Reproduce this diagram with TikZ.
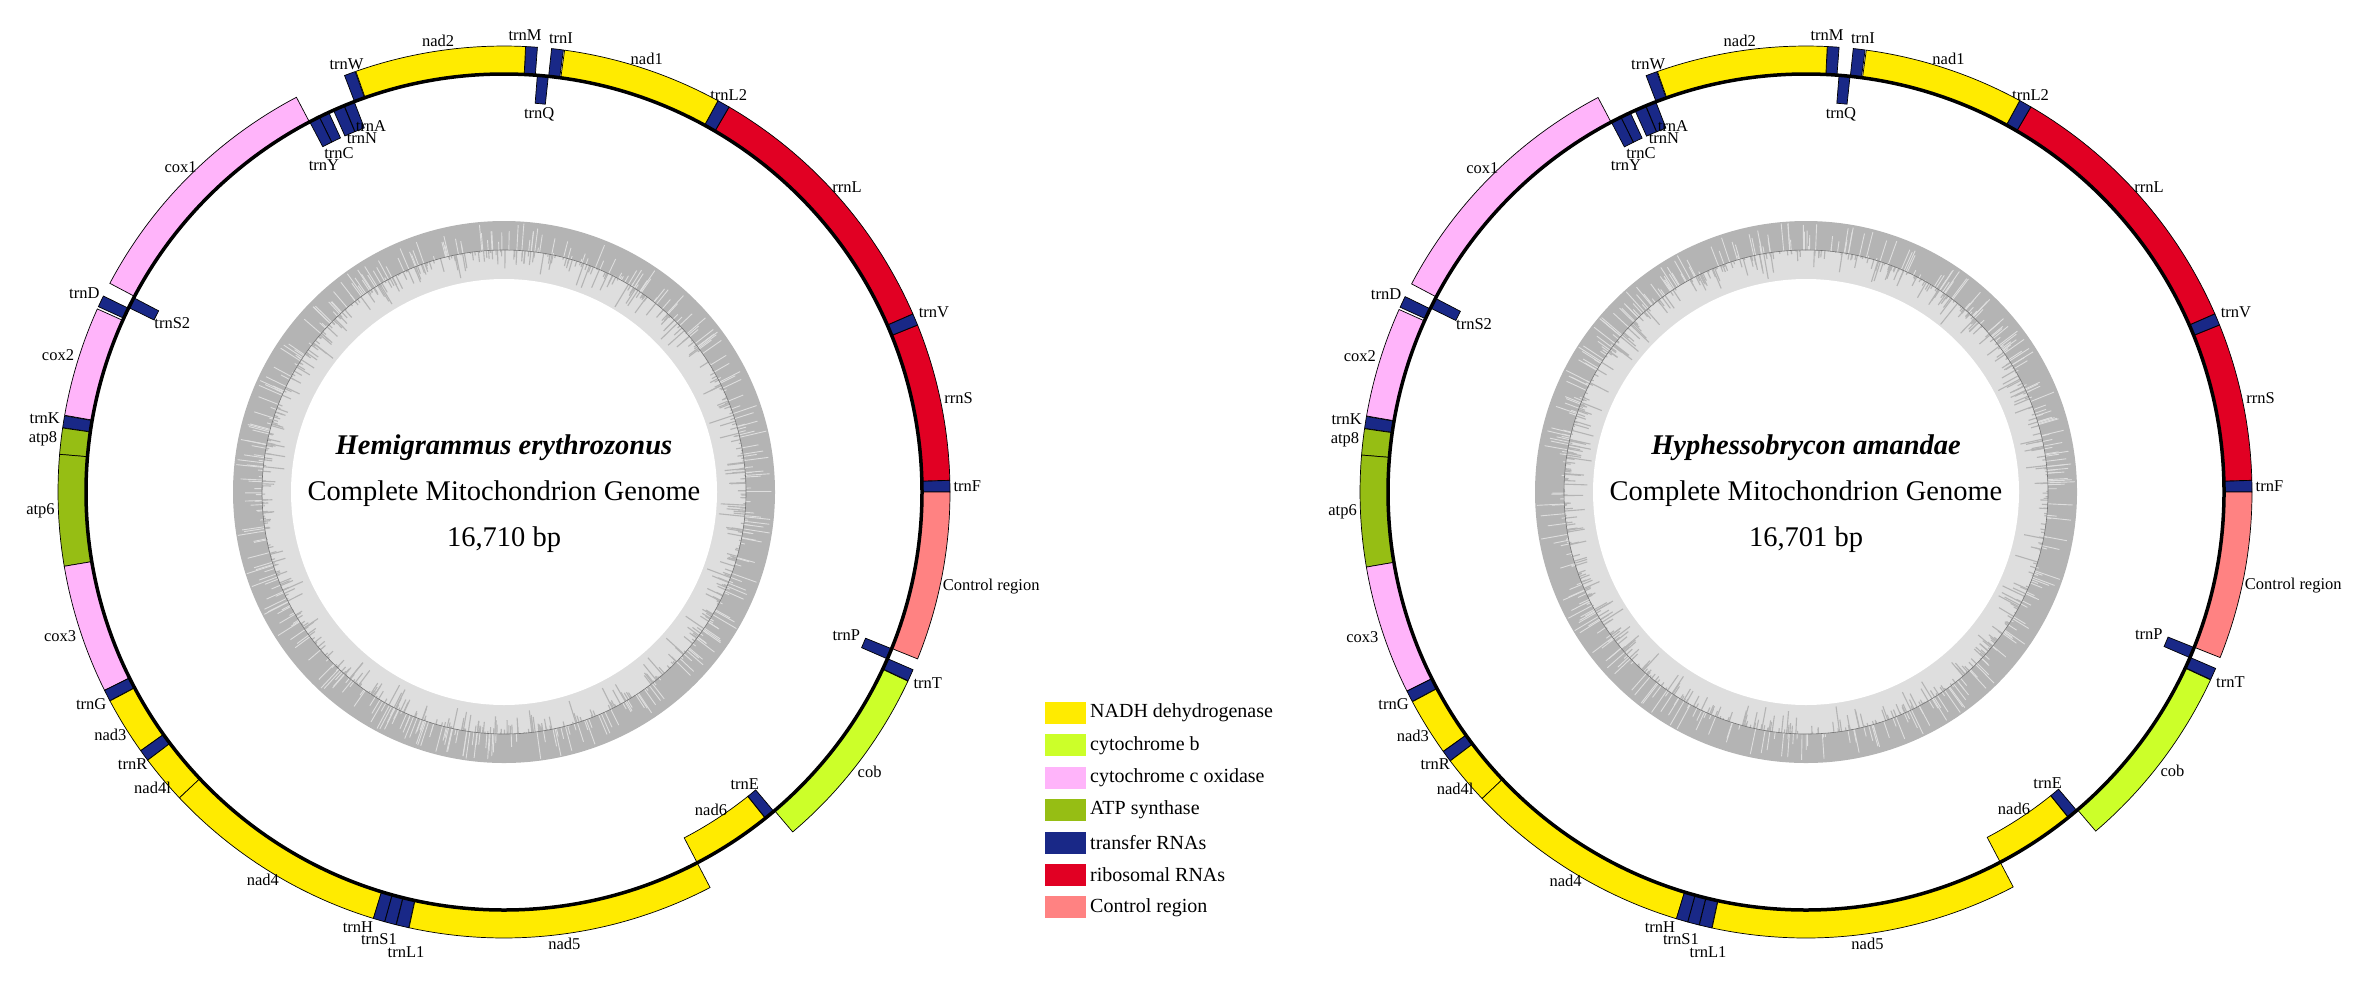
\documentclass[tikz,border=0pt]{standalone}
\usepackage{fontspec}
\setmainfont{Liberation Serif}
\definecolor{nadh}{RGB}{255,235,0}
\definecolor{cytb}{RGB}{204,255,41}
\definecolor{coxc}{RGB}{255,180,250}
\definecolor{atps}{RGB}{150,190,20}
\definecolor{trna}{RGB}{25,40,135}
\definecolor{rrna}{RGB}{225,0,35}
\definecolor{ctrl}{RGB}{255,130,130}
\definecolor{ringdark}{RGB}{180,180,180}
\definecolor{ringlight}{RGB}{222,222,222}

\tikzset{
  genebox/.style={draw=black,line width=0.7pt},
  genelabel/.style={font=\fontsize{16.5}{18}\selectfont,inner sep=1.5pt},
  stacklabel/.style={genelabel,inner sep=0pt},
  backbone/.style={draw=black,line width=3.5pt},
  titletext/.style={font=\fontsize{28.5}{34}\selectfont},
  legendtext/.style={font=\fontsize{20}{24}\selectfont,anchor=west,inner sep=0pt}
}

% gene on the outer side of the backbone: start, end (kb), colour, label
\newcommand{\outgene}[4]{%
  \pgfmathsetmacro\ga{#1*\gfac}%
  \pgfmathsetmacro\gb{#2*\gfac}%
  \pgfmathsetmacro\gm{(\ga+\gb)/2}%
  \pgfmathsetmacro\gl{mod(\gm+180,360)}%
  \filldraw[genebox,fill=#3] (\ga:418pt) arc[start angle=\ga,end angle=\gb,radius=418pt]
    -- (\gb:446pt) arc[start angle=\gb,end angle=\ga,radius=446pt] -- cycle;
  \node[genelabel,anchor=\gl] (lbl-#4) at (\gm:448pt) {#4};}

% gene on the inner side of the backbone
\newcommand{\ingene}[4]{%
  \pgfmathsetmacro\ga{#1*\gfac}%
  \pgfmathsetmacro\gb{#2*\gfac}%
  \pgfmathsetmacro\gm{(\ga+\gb)/2}%
  \filldraw[genebox,fill=#3] (\ga:390pt) arc[start angle=\ga,end angle=\gb,radius=390pt]
    -- (\gb:418pt) arc[start angle=\gb,end angle=\ga,radius=418pt] -- cycle;
  \node[genelabel,anchor=\gm] (lbl-#4) at (\gm:388pt) {#4};}

% GC ring in the middle
\newcommand{\gcring}{%
  \fill[ringdark] (0,0) circle[radius=271pt];
  \fill[ringlight] (0,0) circle[radius=242pt];
  \fill[white] (0,0) circle[radius=213pt];
  \foreach \k in {1,...,700}{%
    \pgfmathsetmacro\ra{360*rnd}%
    \pgfmathsetmacro\rl{242-28*rnd*rnd}%
    \draw[ringdark,line width=1.1pt] (\ra:242pt) -- (\ra:\rl pt);}%
  \foreach \k in {1,...,380}{%
    \pgfmathsetmacro\ra{360*rnd}%
    \pgfmathsetmacro\rl{242+28*rnd}%
    \draw[ringlight,line width=0.9pt] (\ra:242pt) -- (\ra:\rl pt);}%
  \draw[black!55,line width=0.6pt] (0,0) circle[radius=242pt];}

\begin{document}
\begin{tikzpicture}[x=1pt,y=-1pt]
\useasboundingbox (0,0) rectangle (2368,986);
\pgfmathsetseed{11}

% Hemigrammus erythrozonus
\begin{scope}[shift={(504,492)},name prefix=hem-]
  \def\gfac{21.544}
  \gcring
  \outgene{0}{0.069}{trna}{trnF}
  \outgene{0.070}{1.020}{rrna}{rrnS}
  \outgene{1.021}{1.092}{trna}{trnV}
  \outgene{1.093}{2.770}{rrna}{rrnL}
  \outgene{2.771}{2.846}{trna}{trnL2}
  \outgene{2.847}{3.815}{nadh}{nad1}
  \outgene{3.822}{3.893}{trna}{}
  \ingene{3.895}{3.965}{trna}{trnQ}
  \outgene{3.978}{4.048}{trna}{}
  \outgene{4.049}{5.078}{nadh}{nad2}
  \outgene{5.082}{5.150}{trna}{trnW}
  \ingene{5.152}{5.220}{trna}{}
  \ingene{5.222}{5.295}{trna}{}
  \ingene{5.328}{5.394}{trna}{}
  \ingene{5.395}{5.463}{trna}{}
  \outgene{5.465}{7.060}{coxc}{cox1}
  \ingene{7.070}{7.140}{trna}{trnS2}
  \outgene{7.145}{7.215}{trna}{trnD}
  \outgene{7.230}{7.895}{coxc}{cox2}
  \outgene{7.898}{7.970}{trna}{trnK}
  \outgene{7.972}{8.130}{atps}{atp8}
  \outgene{8.130}{8.800}{atps}{atp6}
  \outgene{8.800}{9.580}{coxc}{cox3}
  \outgene{9.581}{9.650}{trna}{trnG}
  \outgene{9.652}{10.000}{nadh}{nad3}
  \outgene{10.001}{10.070}{trna}{trnR}
  \outgene{10.071}{10.365}{nadh}{nad4l}
  \outgene{10.365}{11.742}{nadh}{nad4}
  \outgene{11.742}{11.812}{trna}{}
  \outgene{11.813}{11.882}{trna}{}
  \outgene{11.884}{11.960}{trna}{}
  \outgene{11.962}{13.810}{nadh}{nad5}
  \ingene{13.810}{14.328}{nadh}{nad6}
  \ingene{14.330}{14.398}{trna}{trnE}
  \outgene{14.405}{15.545}{cytb}{cob}
  \outgene{15.548}{15.620}{trna}{trnT}
  \ingene{15.618}{15.688}{trna}{trnP}
  \outgene{15.690}{16.710}{ctrl}{Control region}
  \node[genelabel] (lbl-trnM) at (21,-457) {trnM};
  \node[genelabel] (lbl-trnI) at (57,-454) {trnI};
  \node[stacklabel] (lbl-trnA) at (-133,-366) {trnA};
  \node[stacklabel] (lbl-trnN) at (-142,-354) {trnN};
  \node[stacklabel] (lbl-trnC) at (-165,-339) {trnC};
  \node[stacklabel] (lbl-trnY) at (-180,-327) {trnY};
  \node[stacklabel] (lbl-trnH) at (-146,435) {trnH};
  \node[stacklabel] (lbl-trnS1) at (-125,447) {trnS1};
  \node[stacklabel] (lbl-trnL1) at (-98,460) {trnL1};
  \draw[backbone] (0,0) circle[radius=418pt];
  \node[titletext,font=\fontsize{28.5}{34}\bfseries\itshape] (species) at (0,-44) {Hemigrammus erythrozonus};
  \node[titletext] (kind) at (0,2) {Complete Mitochondrion Genome};
  \node[titletext] (size) at (0,48) {16,710 bp};
\end{scope}

% Hyphessobrycon amandae
\begin{scope}[shift={(1806,492)},name prefix=hyp-]
  \def\gfac{21.5556}
  \gcring
  \outgene{0}{0.069}{trna}{trnF}
  \outgene{0.070}{1.020}{rrna}{rrnS}
  \outgene{1.021}{1.092}{trna}{trnV}
  \outgene{1.093}{2.770}{rrna}{rrnL}
  \outgene{2.771}{2.846}{trna}{trnL2}
  \outgene{2.847}{3.815}{nadh}{nad1}
  \outgene{3.822}{3.893}{trna}{}
  \ingene{3.895}{3.965}{trna}{trnQ}
  \outgene{3.978}{4.048}{trna}{}
  \outgene{4.049}{5.078}{nadh}{nad2}
  \outgene{5.082}{5.150}{trna}{trnW}
  \ingene{5.152}{5.220}{trna}{}
  \ingene{5.222}{5.295}{trna}{}
  \ingene{5.328}{5.394}{trna}{}
  \ingene{5.395}{5.463}{trna}{}
  \outgene{5.465}{7.060}{coxc}{cox1}
  \ingene{7.070}{7.140}{trna}{trnS2}
  \outgene{7.145}{7.215}{trna}{trnD}
  \outgene{7.230}{7.895}{coxc}{cox2}
  \outgene{7.898}{7.970}{trna}{trnK}
  \outgene{7.972}{8.130}{atps}{atp8}
  \outgene{8.130}{8.800}{atps}{atp6}
  \outgene{8.800}{9.580}{coxc}{cox3}
  \outgene{9.581}{9.650}{trna}{trnG}
  \outgene{9.652}{10.000}{nadh}{nad3}
  \outgene{10.001}{10.070}{trna}{trnR}
  \outgene{10.071}{10.365}{nadh}{nad4l}
  \outgene{10.365}{11.742}{nadh}{nad4}
  \outgene{11.742}{11.812}{trna}{}
  \outgene{11.813}{11.882}{trna}{}
  \outgene{11.884}{11.960}{trna}{}
  \outgene{11.962}{13.810}{nadh}{nad5}
  \ingene{13.810}{14.328}{nadh}{nad6}
  \ingene{14.330}{14.398}{trna}{trnE}
  \outgene{14.405}{15.545}{cytb}{cob}
  \outgene{15.548}{15.620}{trna}{trnT}
  \ingene{15.618}{15.688}{trna}{trnP}
  \outgene{15.690}{16.701}{ctrl}{Control region}
  \node[genelabel] (lbl-trnM) at (21,-457) {trnM};
  \node[genelabel] (lbl-trnI) at (57,-454) {trnI};
  \node[stacklabel] (lbl-trnA) at (-133,-366) {trnA};
  \node[stacklabel] (lbl-trnN) at (-142,-354) {trnN};
  \node[stacklabel] (lbl-trnC) at (-165,-339) {trnC};
  \node[stacklabel] (lbl-trnY) at (-180,-327) {trnY};
  \node[stacklabel] (lbl-trnH) at (-146,435) {trnH};
  \node[stacklabel] (lbl-trnS1) at (-125,447) {trnS1};
  \node[stacklabel] (lbl-trnL1) at (-98,460) {trnL1};
  \draw[backbone] (0,0) circle[radius=418pt];
  \node[titletext,font=\fontsize{28.5}{34}\bfseries\itshape] (species) at (0,-44) {Hyphessobrycon amandae};
  \node[titletext] (kind) at (0,2) {Complete Mitochondrion Genome};
  \node[titletext] (size) at (0,48) {16,701 bp};
\end{scope}

% legend
\foreach \col/\txt [count=\i from 0] in {nadh/NADH dehydrogenase, cytb/cytochrome b,
    coxc/cytochrome c oxidase, atps/ATP synthase, trna/transfer RNAs,
    rrna/ribosomal RNAs, ctrl/Control region}{
  \fill[\col] (1045,{702+32.4*\i}) rectangle ++(41,22);
  \node[legendtext] (leg\i) at (1090,{713+32.4*\i}) {\txt};
}
\end{tikzpicture}
\end{document}
